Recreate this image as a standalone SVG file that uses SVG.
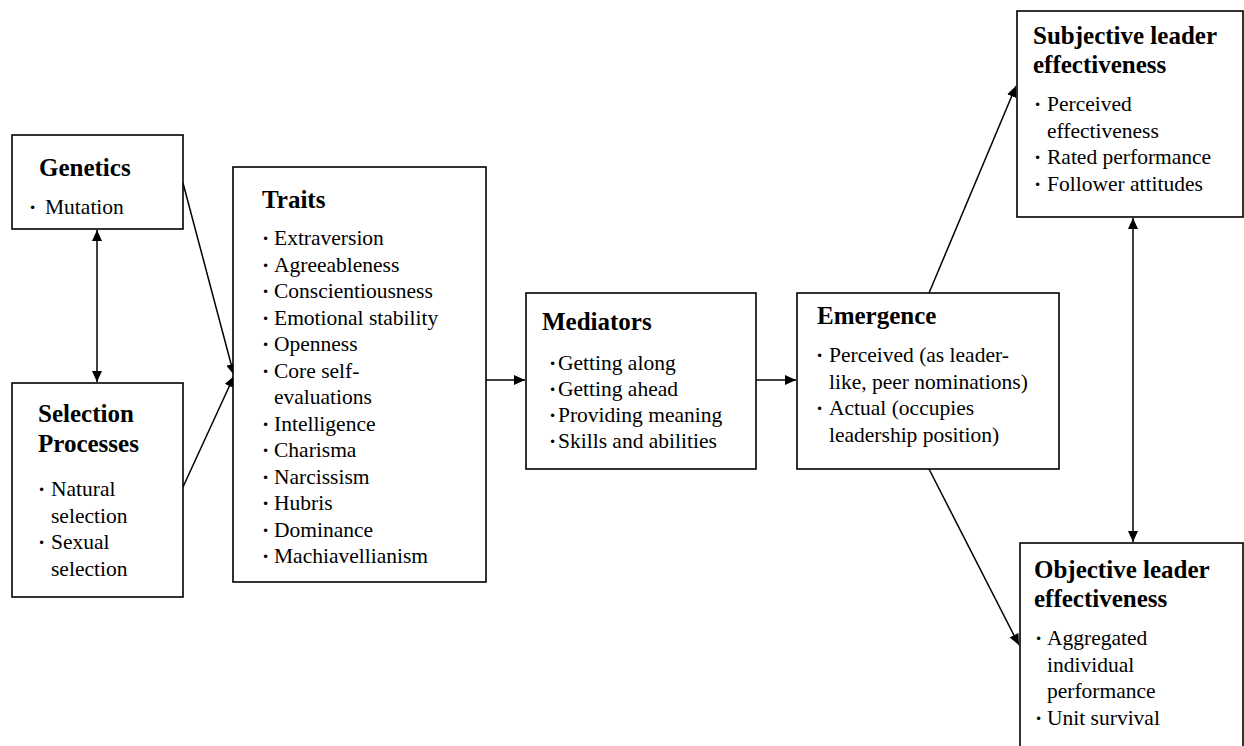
<svg xmlns="http://www.w3.org/2000/svg" width="1244" height="746" viewBox="0 0 1244 746">
<defs>
<style>
.box{fill:#fff;stroke:#000;stroke-width:1.6}
.t{font-family:"Liberation Serif","Times New Roman",serif;font-weight:bold;font-size:25px;fill:#000}
.b{font-family:"Liberation Serif","Times New Roman",serif;font-size:21.5px;fill:#000}
.d{font-family:"Liberation Serif","Times New Roman",serif;font-weight:bold;font-size:21.5px;fill:#000}
.c{fill:none;stroke:#000;stroke-width:1.5}
</style>
<marker id="ah" markerUnits="userSpaceOnUse" markerWidth="12" markerHeight="10" refX="11" refY="5" orient="auto-start-reverse">
<path d="M0,0 L11,5 L0,10 Z" fill="#000"/>
</marker>
</defs>
<rect width="1244" height="746" fill="#fff"/>
<g id="connectors">
<line class="c" x1="97" y1="230" x2="97" y2="382" marker-start="url(#ah)" marker-end="url(#ah)"/>
<line class="c" x1="183" y1="183" x2="234" y2="375" marker-end="url(#ah)"/>
<line class="c" x1="183" y1="487" x2="234" y2="376" marker-end="url(#ah)"/>
<line class="c" x1="486" y1="380" x2="525" y2="380" marker-end="url(#ah)"/>
<line class="c" x1="756" y1="380" x2="796" y2="380" marker-end="url(#ah)"/>
<line class="c" x1="929" y1="293" x2="1016" y2="86" marker-end="url(#ah)"/>
<line class="c" x1="929" y1="469" x2="1019" y2="645" marker-end="url(#ah)"/>
<line class="c" x1="1133" y1="218" x2="1133" y2="542" marker-start="url(#ah)" marker-end="url(#ah)"/>
</g>
<g id="genetics">
<rect class="box" x="12" y="135" width="171" height="94"/>
<text class="t" x="39" y="176">Genetics</text>
<text class="d" x="29" y="214">·</text><text class="b" x="45" y="214">Mutation</text>
</g>
<g id="selection">
<rect class="box" x="12" y="383" width="171" height="214"/>
<text class="t" x="38" y="422">Selection</text>
<text class="t" x="38" y="452">Processes</text>
<text class="d" x="38" y="496">·</text><text class="b" x="51" y="496">Natural</text>
<text class="b" x="51" y="522.5">selection</text>
<text class="d" x="38" y="549">·</text><text class="b" x="51" y="549">Sexual</text>
<text class="b" x="51" y="575.5">selection</text>
</g>
<g id="traits">
<rect class="box" x="233" y="167" width="253" height="415"/>
<text class="t" x="262" y="208">Traits</text>
<g class="d">
<text x="262" y="245">·</text><text x="262" y="271.5">·</text><text x="262" y="298">·</text><text x="262" y="324.5">·</text><text x="262" y="351">·</text><text x="262" y="377.5">·</text><text x="262" y="430.5">·</text><text x="262" y="457">·</text><text x="262" y="483.5">·</text><text x="262" y="510">·</text><text x="262" y="536.5">·</text><text x="262" y="563">·</text>
</g>
<g class="b">
<text x="274" y="245">Extraversion</text>
<text x="274" y="271.5">Agreeableness</text>
<text x="274" y="298">Conscientiousness</text>
<text x="274" y="324.5">Emotional stability</text>
<text x="274" y="351">Openness</text>
<text x="274" y="377.5">Core self-</text>
<text x="274" y="404">evaluations</text>
<text x="274" y="430.5">Intelligence</text>
<text x="274" y="457">Charisma</text>
<text x="274" y="483.5">Narcissism</text>
<text x="274" y="510">Hubris</text>
<text x="274" y="536.5">Dominance</text>
<text x="274" y="563">Machiavellianism</text>
</g>
</g>
<g id="mediators">
<rect class="box" x="526" y="293" width="230" height="176"/>
<text class="t" x="542" y="330">Mediators</text>
<g class="d"><text x="549" y="370">·</text><text x="549" y="396">·</text><text x="549" y="422">·</text><text x="549" y="448">·</text></g>
<g class="b">
<text x="558" y="370">Getting along</text>
<text x="558" y="396">Getting ahead</text>
<text x="558" y="422">Providing meaning</text>
<text x="558" y="448">Skills and abilities</text>
</g>
</g>
<g id="emergence">
<rect class="box" x="797" y="293" width="262" height="176"/>
<text class="t" x="817" y="324">Emergence</text>
<g class="d"><text x="816" y="362">·</text><text x="816" y="415">·</text></g>
<g class="b">
<text x="829" y="362">Perceived (as leader-</text>
<text x="829" y="388.5">like, peer nominations)</text>
<text x="829" y="415">Actual (occupies</text>
<text x="829" y="441.5">leadership position)</text>
</g>
</g>
<g id="subjective">
<rect class="box" x="1017" y="11" width="226" height="206"/>
<text class="t" x="1033" y="44">Subjective leader</text>
<text class="t" x="1033" y="73">effectiveness</text>
<g class="d"><text x="1034" y="111">·</text><text x="1034" y="164">·</text><text x="1034" y="190.5">·</text></g>
<g class="b">
<text x="1047" y="111">Perceived</text>
<text x="1047" y="137.5">effectiveness</text>
<text x="1047" y="164">Rated performance</text>
<text x="1047" y="190.5">Follower attitudes</text>
</g>
</g>
<g id="objective">
<rect class="box" x="1020" y="543" width="223" height="210"/>
<text class="t" x="1034" y="578">Objective leader</text>
<text class="t" x="1034" y="607">effectiveness</text>
<g class="d"><text x="1035" y="645">·</text><text x="1035" y="724.5">·</text></g>
<g class="b">
<text x="1047" y="645">Aggregated</text>
<text x="1047" y="671.5">individual</text>
<text x="1047" y="698">performance</text>
<text x="1047" y="724.5">Unit survival</text>
</g>
</g>
</svg>
